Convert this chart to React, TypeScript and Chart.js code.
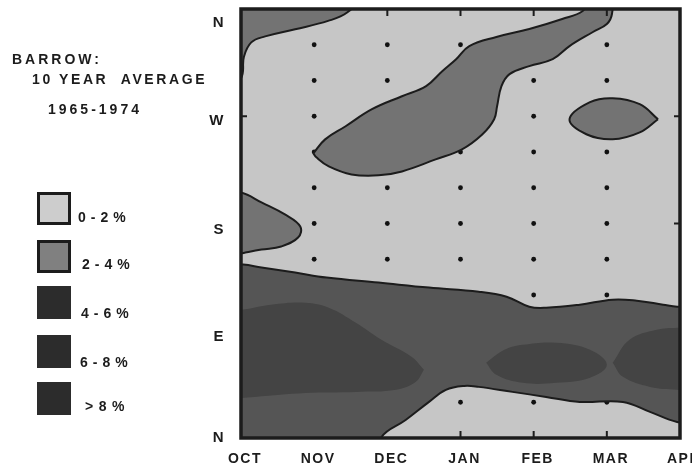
import React, { useEffect, useRef } from "react";
import { Chart, registerables } from "chart.js";
Chart.register(...registerables);

// Axis labels
const monthLabels = ["OCT", "NOV", "DEC", "JAN", "FEB", "MAR", "APR"];
const dirTickValues = [0, 85, 175, 266, 348];
const dirTickLabels = ["N", "E", "S", "W", "N"];

// Observation grid (month index, wind direction in degrees)
const stationMonths = [1, 2, 3, 4, 5];
const stationDirs = [30, 60, 90, 120, 150, 180, 210, 240, 270, 300, 330];

// Small inward frame ticks
const topFrameTicks = [2, 3, 4, 5];
const bottomFrameTicks = [3, 4, 5];
const leftFrameTicks = [270];
const rightFrameTicks = [270, 180];

type P = [number, number];

// 2-4 % contours
const zoneNorthWestOct: P[] = [
  [-0.3, 285], [0, 302], [0.04, 320], [0.14, 332], [0.33, 337], [0.74, 343],
  [1.19, 350], [1.45, 357], [1.62, 370], [-0.3, 370],
];
const zoneDiagonal: P[] = [
  [0.99, 238.9], [1.15, 250.6], [1.43, 261.6], [1.79, 275.9], [2.2, 286.8],
  [2.53, 295.3], [2.75, 307.8], [2.94, 317.9], [3.12, 328.9], [3.49, 336.5],
  [3.94, 343.2], [4.39, 351.6], [4.67, 358.3], [4.75, 368], [5.05, 368],
  [5.07, 355.8], [5.0, 347.4], [4.81, 340.7], [4.49, 328.9], [4.26, 317.9],
  [3.94, 312.1], [3.67, 305.3], [3.56, 295.2], [3.5, 278.4], [3.46, 267.5],
  [3.3, 254.9], [3.02, 242.2], [2.66, 233.8], [2.2, 223.7], [1.88, 220.4],
  [1.51, 221.2], [1.2, 227.9], [1.03, 235.5], [0.99, 238.9],
];
const zoneWestMar: P[] = [
  [5.7, 267.5], [5.45, 256.5], [5.08, 250.7], [4.72, 254.9], [4.49, 267.5],
  [4.77, 281.8], [5.08, 285.1], [5.45, 280.1], [5.7, 267.5],
];
const zoneSouthOct: P[] = [
  [-0.3, 207], [0, 206], [0.28, 197.7], [0.6, 187.6], [0.81, 177.5],
  [0.78, 168.2], [0.55, 160.7], [0.28, 158.1], [0.06, 155.6], [0, 154.8], [-0.3, 154],
];
// 4-6 % contour
const zoneEastBand: P[] = [
  [-0.3, 146], [0.03, 145.5], [0.28, 143], [0.74, 138.8], [1.17, 134.6],
  [1.88, 130.4], [2.57, 126.2], [3.25, 122.8], [3.63, 118.6], [3.94, 110.2],
  [4.17, 109.3], [4.63, 111.9], [5.08, 116.1], [5.41, 115.2], [5.77, 111.9],
  [5.96, 110.2], [6.3, 109], [6.3, 12], [5.96, 13.5], [5.59, 21.9], [5.22, 30.3],
  [4.63, 30.3], [4.17, 34.5], [3.71, 38.7], [3.25, 42.9], [3.05, 43.7],
  [2.8, 40.4], [2.57, 30.3], [2.25, 15.1], [1.92, 0.8], [1.85, -20], [-0.3, -20],
];
// 6-8 % contours
const zoneEastOct: P[] = [
  [2.5, 57.2], [2.39, 47.1], [2.12, 40.4], [1.57, 38.7], [0.88, 37.8],
  [0.19, 34.5], [0, 33.6], [-0.3, 33], [-0.3, 108], [0, 107.7], [0.41, 111.9],
  [0.88, 113.5], [1.2, 109.3], [1.57, 96.7], [1.92, 82.4], [2.33, 68.1], [2.5, 57.2],
];
const zoneEastFeb: P[] = [
  [3.35, 63.1], [3.6, 74], [3.85, 78.2], [4.31, 79.9], [4.77, 74], [5.0, 61.4],
  [4.77, 50.5], [4.31, 46.3], [3.85, 46.3], [3.49, 53], [3.35, 63.1],
];
const zoneEastApr: P[] = [
  [5.08, 63.1], [5.31, 82.4], [5.68, 90.8], [5.96, 92.5], [6.3, 93], [6.3, 38],
  [5.96, 40.4], [5.59, 42.9], [5.22, 51.3], [5.08, 63.1],
];

const C_LIGHT = "#c6c6c6";
const C_24 = "#737373";
const C_46 = "#555555";
const C_68 = "#444444";
const C_LEG_DARK = "#2c2c2c";
const C_INK = "#1c1c1c";

const toXY = (pts: P[]) => pts.map(([x, y]) => ({ x, y }));

const frameBg = {
  id: "frameBg",
  beforeDraw(chart: any) {
    const { ctx, chartArea: a } = chart;
    ctx.save();
    ctx.fillStyle = C_LIGHT;
    ctx.fillRect(a.left, a.top, a.right - a.left, a.bottom - a.top);
    ctx.restore();
    ctx.letterSpacing = "1.5px";
  },
  afterDatasetsDraw(chart: any) {
    const { ctx, chartArea: a, scales } = chart;
    const xs = scales.x;
    const ys = scales.y;
    ctx.save();
    ctx.strokeStyle = C_INK;
    ctx.lineWidth = 3.5;
    ctx.strokeRect(a.left, a.top, a.right - a.left, a.bottom - a.top);
    ctx.lineWidth = 2;
    ctx.beginPath();
    topFrameTicks.forEach((m) => {
      const px = xs.getPixelForValue(m);
      ctx.moveTo(px, a.top);
      ctx.lineTo(px, a.top + 7);
    });
    bottomFrameTicks.forEach((m) => {
      const px = xs.getPixelForValue(m);
      ctx.moveTo(px, a.bottom);
      ctx.lineTo(px, a.bottom - 7);
    });
    leftFrameTicks.forEach((d) => {
      const py = ys.getPixelForValue(d);
      ctx.moveTo(a.left, py);
      ctx.lineTo(a.left + 6, py);
    });
    rightFrameTicks.forEach((d) => {
      const py = ys.getPixelForValue(d);
      ctx.moveTo(a.right, py);
      ctx.lineTo(a.right - 6, py);
    });
    ctx.stroke();
    ctx.restore();
  },
  afterDraw(chart: any) {
    chart.ctx.letterSpacing = "0px";
  },
};

export default function App() {
  const ref = useRef<HTMLCanvasElement>(null);
  useEffect(() => {
    const stations: { x: number; y: number }[] = [];
    stationMonths.forEach((m) => stationDirs.forEach((d) => stations.push({ x: m, y: d })));

    const zone = (data: P[], color: string, order: number, outline: boolean) => ({
      type: "scatter" as const,
      data: toXY(data),
      showLine: true,
      fill: "shape",
      backgroundColor: color,
      borderColor: outline ? C_INK : color,
      borderWidth: outline ? 2 : 0,
      tension: 0.4,
      pointRadius: 0,
      order,
    });

    const chart = new Chart(ref.current!, {
      type: "scatter",
      data: {
        datasets: [
          zone(zoneNorthWestOct, C_24, 3, true),
          zone(zoneDiagonal, C_24, 3, true),
          zone(zoneWestMar, C_24, 3, true),
          zone(zoneSouthOct, C_24, 3, true),
          zone(zoneEastOct, C_68, 4, false),
          zone(zoneEastFeb, C_68, 4, false),
          zone(zoneEastApr, C_68, 4, false),
          zone(zoneEastBand, C_46, 5, true),
          {
            type: "scatter",
            data: stations,
            pointRadius: 2.4,
            pointBackgroundColor: "#111",
            pointBorderWidth: 0,
            order: 10,
          } as any,
        ],
      },
      options: {
        responsive: false,
        animation: false,
        events: [],
        layout: { padding: { top: 9, right: 12, left: 0, bottom: 0 } },
        elements: { line: { capBezierPoints: false } },
        plugins: { legend: { display: false }, tooltip: { enabled: false } },
        scales: {
          x: {
            type: "linear",
            min: 0,
            max: 6,
            grid: { display: false },
            border: { display: false },
            afterBuildTicks: (s: any) => {
              s.ticks = monthLabels.map((_, i) => ({ value: i }));
            },
            afterFit: (s: any) => {
              s.height = 27;
              s.paddingLeft = 0;
              s.paddingRight = 0;
            },
            ticks: {
              autoSkip: false,
              maxRotation: 0,
              padding: 5,
              labelOffset: 4,
              color: C_INK,
              font: { family: "'Liberation Sans', Arial, sans-serif", size: 14, weight: "bold" },
              callback: (v: any) => monthLabels[v as number] ?? "",
            },
          },
          y: {
            type: "linear",
            min: 0,
            max: 360,
            grid: { display: false },
            border: { display: false },
            afterBuildTicks: (s: any) => {
              s.ticks = dirTickValues.map((v) => ({ value: v }));
            },
            afterFit: (s: any) => {
              s.width = 241;
              s.paddingTop = 0;
              s.paddingBottom = 0;
            },
            ticks: {
              autoSkip: false,
              padding: 8,
              color: C_INK,
              font: { family: "'Liberation Sans', Arial, sans-serif", size: 15, weight: "bold" },
              callback: (_v: any, i: number) => dirTickLabels[i] ?? "",
            },
          },
        },
      } as any,
      plugins: [frameBg],
    });
    return () => chart.destroy();
  }, []);

  const txt = (extra: React.CSSProperties): React.CSSProperties => ({
    position: "absolute",
    fontSize: 14,
    lineHeight: "14px",
    fontWeight: "bold",
    whiteSpace: "pre",
    color: C_INK,
    ...extra,
  });
  const box = (top: number, fill: string, bordered: boolean): React.CSSProperties => ({
    position: "absolute",
    left: 37,
    top,
    width: 34,
    height: 33,
    boxSizing: "border-box",
    background: fill,
    border: bordered ? `3px solid ${C_INK}` : "none",
  });

  return (
    <div
      style={{
        position: "fixed",
        left: 0,
        top: 0,
        width: 692,
        height: 465,
        background: "#fff",
        overflow: "hidden",
        fontFamily: "'Liberation Sans', Arial, sans-serif",
      }}
    >
      <canvas ref={ref} width={692} height={465} style={{ position: "absolute", left: 0, top: 0 }} />
      <div style={txt({ left: 12, top: 52, letterSpacing: "3px" })}>BARROW:</div>
      <div style={txt({ left: 32, top: 72, letterSpacing: "2.6px" })}>10 YEAR  AVERAGE</div>
      <div style={txt({ left: 48, top: 102, letterSpacing: "3px" })}>1965-1974</div>

      <div style={box(192, "#cdcdcd", true)} />
      <div style={box(240, "#808080", true)} />
      <div style={box(286, C_LEG_DARK, false)} />
      <div style={box(335, C_LEG_DARK, false)} />
      <div style={box(382, C_LEG_DARK, false)} />

      <div style={txt({ left: 78, top: 210, letterSpacing: "5px" })}>0-2%</div>
      <div style={txt({ left: 82, top: 257, letterSpacing: "5px" })}>2-4%</div>
      <div style={txt({ left: 81, top: 306, letterSpacing: "5px" })}>4-6%</div>
      <div style={txt({ left: 80, top: 355, letterSpacing: "5px" })}>6-8%</div>
      <div style={txt({ left: 85, top: 399, letterSpacing: "5.5px" })}>&gt;8%</div>
    </div>
  );
}
